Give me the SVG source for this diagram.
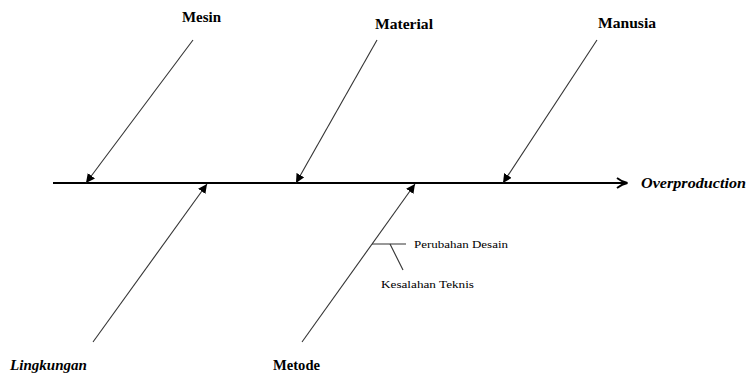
<svg xmlns="http://www.w3.org/2000/svg" width="747" height="374" viewBox="0 0 747 374">
<style>
.lbl{font-family:"Liberation Serif","Times New Roman","DejaVu Serif",serif;font-weight:bold;font-size:14px;fill:#000}
.it{font-style:italic}
.sm{font-family:"Liberation Serif","Times New Roman","DejaVu Serif",serif;font-size:11px;fill:#000}
.bone{stroke:#333;stroke-width:1.1;fill:none}
.spine{stroke:#000;stroke-width:2;fill:none}
</style>
<defs>
<marker id="ah" viewBox="0 0 10 10" refX="10" refY="5" markerWidth="9" markerHeight="9" markerUnits="userSpaceOnUse" orient="auto">
<path d="M0,0 L10,5 L0,10 z" fill="#000"/>
</marker>
</defs>
<g id="connectors">
<line class="spine" x1="53" y1="183" x2="626" y2="183"/>
<path d="M617,178 Q622,182 627.5,183 Q622,184 617,188" stroke="#000" stroke-width="1.8" fill="none"/>
<line class="bone" x1="193" y1="40" x2="86" y2="183" marker-end="url(#ah)"/>
<line class="bone" x1="377" y1="40" x2="296" y2="183" marker-end="url(#ah)"/>
<line class="bone" x1="597" y1="40" x2="503" y2="183" marker-end="url(#ah)"/>
<line class="bone" x1="93" y1="342" x2="207" y2="184" marker-end="url(#ah)"/>
<line class="bone" x1="302" y1="342" x2="415" y2="184" marker-end="url(#ah)"/>
<line class="bone" x1="372" y1="244" x2="406" y2="244"/>
<line class="bone" x1="390" y1="244" x2="403" y2="270"/>
</g>
<g id="effect"><text class="lbl it" x="641" y="188" textLength="105" lengthAdjust="spacingAndGlyphs">Overproduction</text></g>
<g id="mesin"><text class="lbl" x="182" y="22" textLength="39" lengthAdjust="spacingAndGlyphs">Mesin</text></g>
<g id="material"><text class="lbl" x="375" y="29" textLength="58" lengthAdjust="spacingAndGlyphs">Material</text></g>
<g id="manusia"><text class="lbl" x="598" y="28" textLength="58" lengthAdjust="spacingAndGlyphs">Manusia</text></g>
<g id="lingkungan"><text class="lbl it" x="10" y="370" textLength="77" lengthAdjust="spacingAndGlyphs">Lingkungan</text></g>
<g id="metode"><text class="lbl" x="273" y="370" textLength="47" lengthAdjust="spacingAndGlyphs">Metode</text></g>
<g id="perubahan"><text class="sm" x="414" y="248" textLength="94" lengthAdjust="spacingAndGlyphs">Perubahan Desain</text></g>
<g id="kesalahan"><text class="sm" x="381" y="288" textLength="93" lengthAdjust="spacingAndGlyphs">Kesalahan Teknis</text></g>
</svg>
